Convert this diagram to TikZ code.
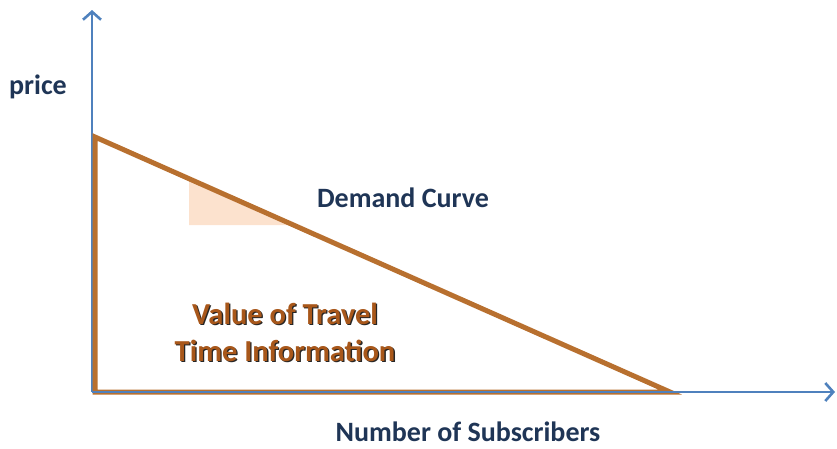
\documentclass[tikz,border=0pt]{standalone}
\usepackage{fontspec}
\setmainfont{Carlito}
\usepackage{xcolor}
\usetikzlibrary{arrows.meta,positioning}
\definecolor{axisblue}{HTML}{4F81BD}
\definecolor{curvebrown}{HTML}{B8702F}
\definecolor{peach}{HTML}{FCE2CE}
\definecolor{navy}{HTML}{1F3556}
\definecolor{valbrown}{HTML}{A8571A}
\tikzset{axis/.style={draw=axisblue,line width=2.6pt,-{Straight Barb[length=8pt,width=18pt,line width=2.6pt]}},
  curve/.style={draw=curvebrown,line width=5pt,line join=miter},
  lbl/.style={font=\fontsize{28}{30}\selectfont\bfseries,text=navy,inner sep=0pt},
  val/.style={font=\fontsize{30.5}{37}\selectfont\bfseries,align=center,inner sep=0pt}}

\begin{document}
\begin{tikzpicture}[x=1pt,y=-1pt]
    \useasboundingbox (0,0) rectangle (837,448);
    \coordinate (o) at (92,392);
    \coordinate (ytop) at (92,10);
    \coordinate (xend) at (835,392);
    \coordinate (pmax) at (95,137);
    \coordinate (qmax) at (670,392);
    \coordinate (corner) at (95,392);

    % shaded slope triangle
    \fill[peach] (189,180) -- (189,225) -- (291,225) -- cycle;

    \draw[axis] (o) -- (ytop);
    \draw[curve] (pmax) -- (qmax) -- (corner) -- cycle;
    \draw[axis] (o) -- (xend);

    \node[lbl] (price) at (38,87) {price};
    \node[lbl] (demand) at (403,198) {Demand Curve};
    \node[lbl] (subs) at (468,432) {Number of Subscribers};

    \node[val,text=black!85] (valshadow) at (286.3,333.3) {Value of Travel\\Time Information};
    \node[val,text=valbrown] (value) at (285,332) {Value of Travel\\Time Information};
\end{tikzpicture}
\end{document}
